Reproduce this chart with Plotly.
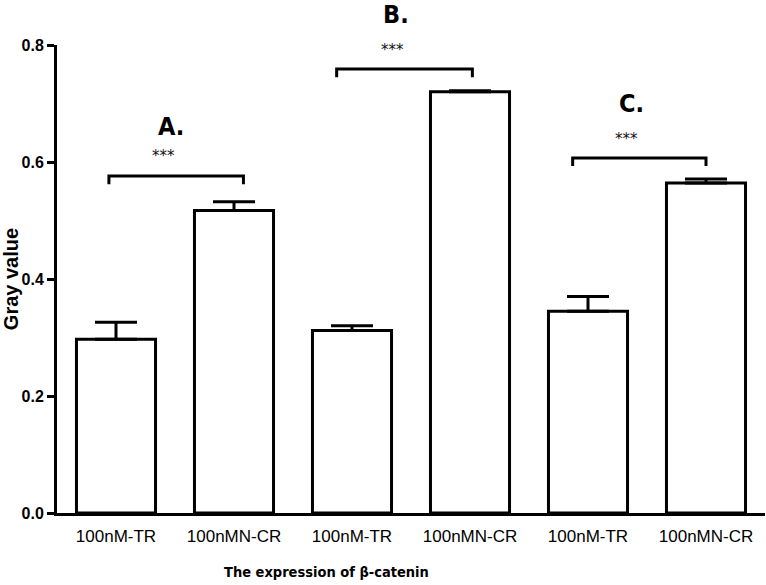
import plotly.graph_objects as go

# ---- data ----
categories = ["100nM-TR", "100nMN-CR", "100nM-TR", "100nMN-CR", "100nM-TR", "100nMN-CR"]
gray_values = [0.297, 0.517, 0.312, 0.720, 0.345, 0.564]
sem_values = [0.029, 0.015, 0.008, 0.002, 0.025, 0.007]

y_ticks = [0.0, 0.2, 0.4, 0.6, 0.8]
y_tick_labels = ["0.0", "0.2", "0.4", "0.6", "0.8"]
y_max = 0.8

# significance brackets (category index positions, value level)
bracket_x0 = [-0.06, 1.87, 3.87]
bracket_x1 = [1.08, 3.02, 5.00]
bracket_y = [0.576, 0.759, 0.607]
bracket_drop = 0.014
star_x = [0.40, 2.34, 4.33]
star_y = [0.610, 0.792, 0.640]
star_text = ["***", "***", "***"]
panel_x = [0.47, 2.37, 4.37]
panel_y = [0.661, 0.852, 0.700]
panel_text = ["A.", "B.", "C."]

x_title = "The expression of β-catenin"
y_title = "Gray value"

fig = go.Figure()
fig.add_trace(go.Bar(
    x=list(range(len(categories))),
    y=gray_values,
    marker=dict(color="white", line=dict(color="black", width=3)),
    error_y=dict(type="data", symmetric=False, array=sem_values,
                 arrayminus=[0] * len(sem_values),
                 color="black", thickness=3, width=21),
    showlegend=False,
))

for x0, x1, yb in zip(bracket_x0, bracket_x1, bracket_y):
    fig.add_trace(go.Scatter(
        x=[x0, x0, x1, x1], y=[yb - bracket_drop, yb, yb, yb - bracket_drop],
        mode="lines", line=dict(color="black", width=3),
        showlegend=False, hoverinfo="skip", cliponaxis=False,
    ))

for x, y, t in zip(star_x, star_y, star_text):
    fig.add_annotation(x=x, y=y / y_max, text=t, showarrow=False, xref="x", yref="y domain",
                       xanchor="center", yanchor="middle",
                       font=dict(family="DejaVu Sans", size=15, color="#111111"))
for x, y, t in zip(panel_x, panel_y, panel_text):
    fig.add_annotation(x=x, y=y / y_max, text="<b>" + t + "</b>", showarrow=False,
                       xref="x", yref="y domain", xanchor="center", yanchor="middle",
                       font=dict(family="DejaVu Sans Condensed", size=25, color="black"))

# x-axis title (placed left of centre as in the original)
fig.add_annotation(x=0.38, y=-0.126, xref="paper", yref="paper", showarrow=False,
                   xanchor="center", yanchor="middle", text="<b>" + x_title + "</b>",
                   font=dict(family="DejaVu Sans Condensed", size=14.5, color="black"))

fig.update_layout(
    width=766, height=585,
    margin=dict(l=57, r=1, t=45, b=72),
    plot_bgcolor="white", paper_bgcolor="white",
    bargap=0.33,
    font=dict(family="Liberation Sans", color="black"),
)
fig.update_xaxes(
    range=[-0.5, 5.5],
    tickmode="array", tickvals=list(range(len(categories))), ticktext=categories,
    tickfont=dict(family="Liberation Sans", size=17, color="black"),
    ticklabelstandoff=6,
    showline=True, linecolor="black", linewidth=3, ticks="", showgrid=False, zeroline=False,
)
fig.update_yaxes(
    range=[0, y_max],
    tickmode="array", tickvals=y_ticks, ticktext=["<b>" + t + "</b>" for t in y_tick_labels],
    tickfont=dict(family="Liberation Sans", size=16, color="black"),
    showline=True, linecolor="black", linewidth=3, ticks="outside", ticklen=7, tickwidth=3, tickcolor="black",
    showgrid=False, zeroline=False,
    title=dict(text="<b>" + y_title + "</b>", font=dict(family="Liberation Sans", size=20, color="black"), standoff=2),
)

fig.write_html("out.html", post_script="document.body.style.margin='0';",
               config={"displayModeBar": False})
